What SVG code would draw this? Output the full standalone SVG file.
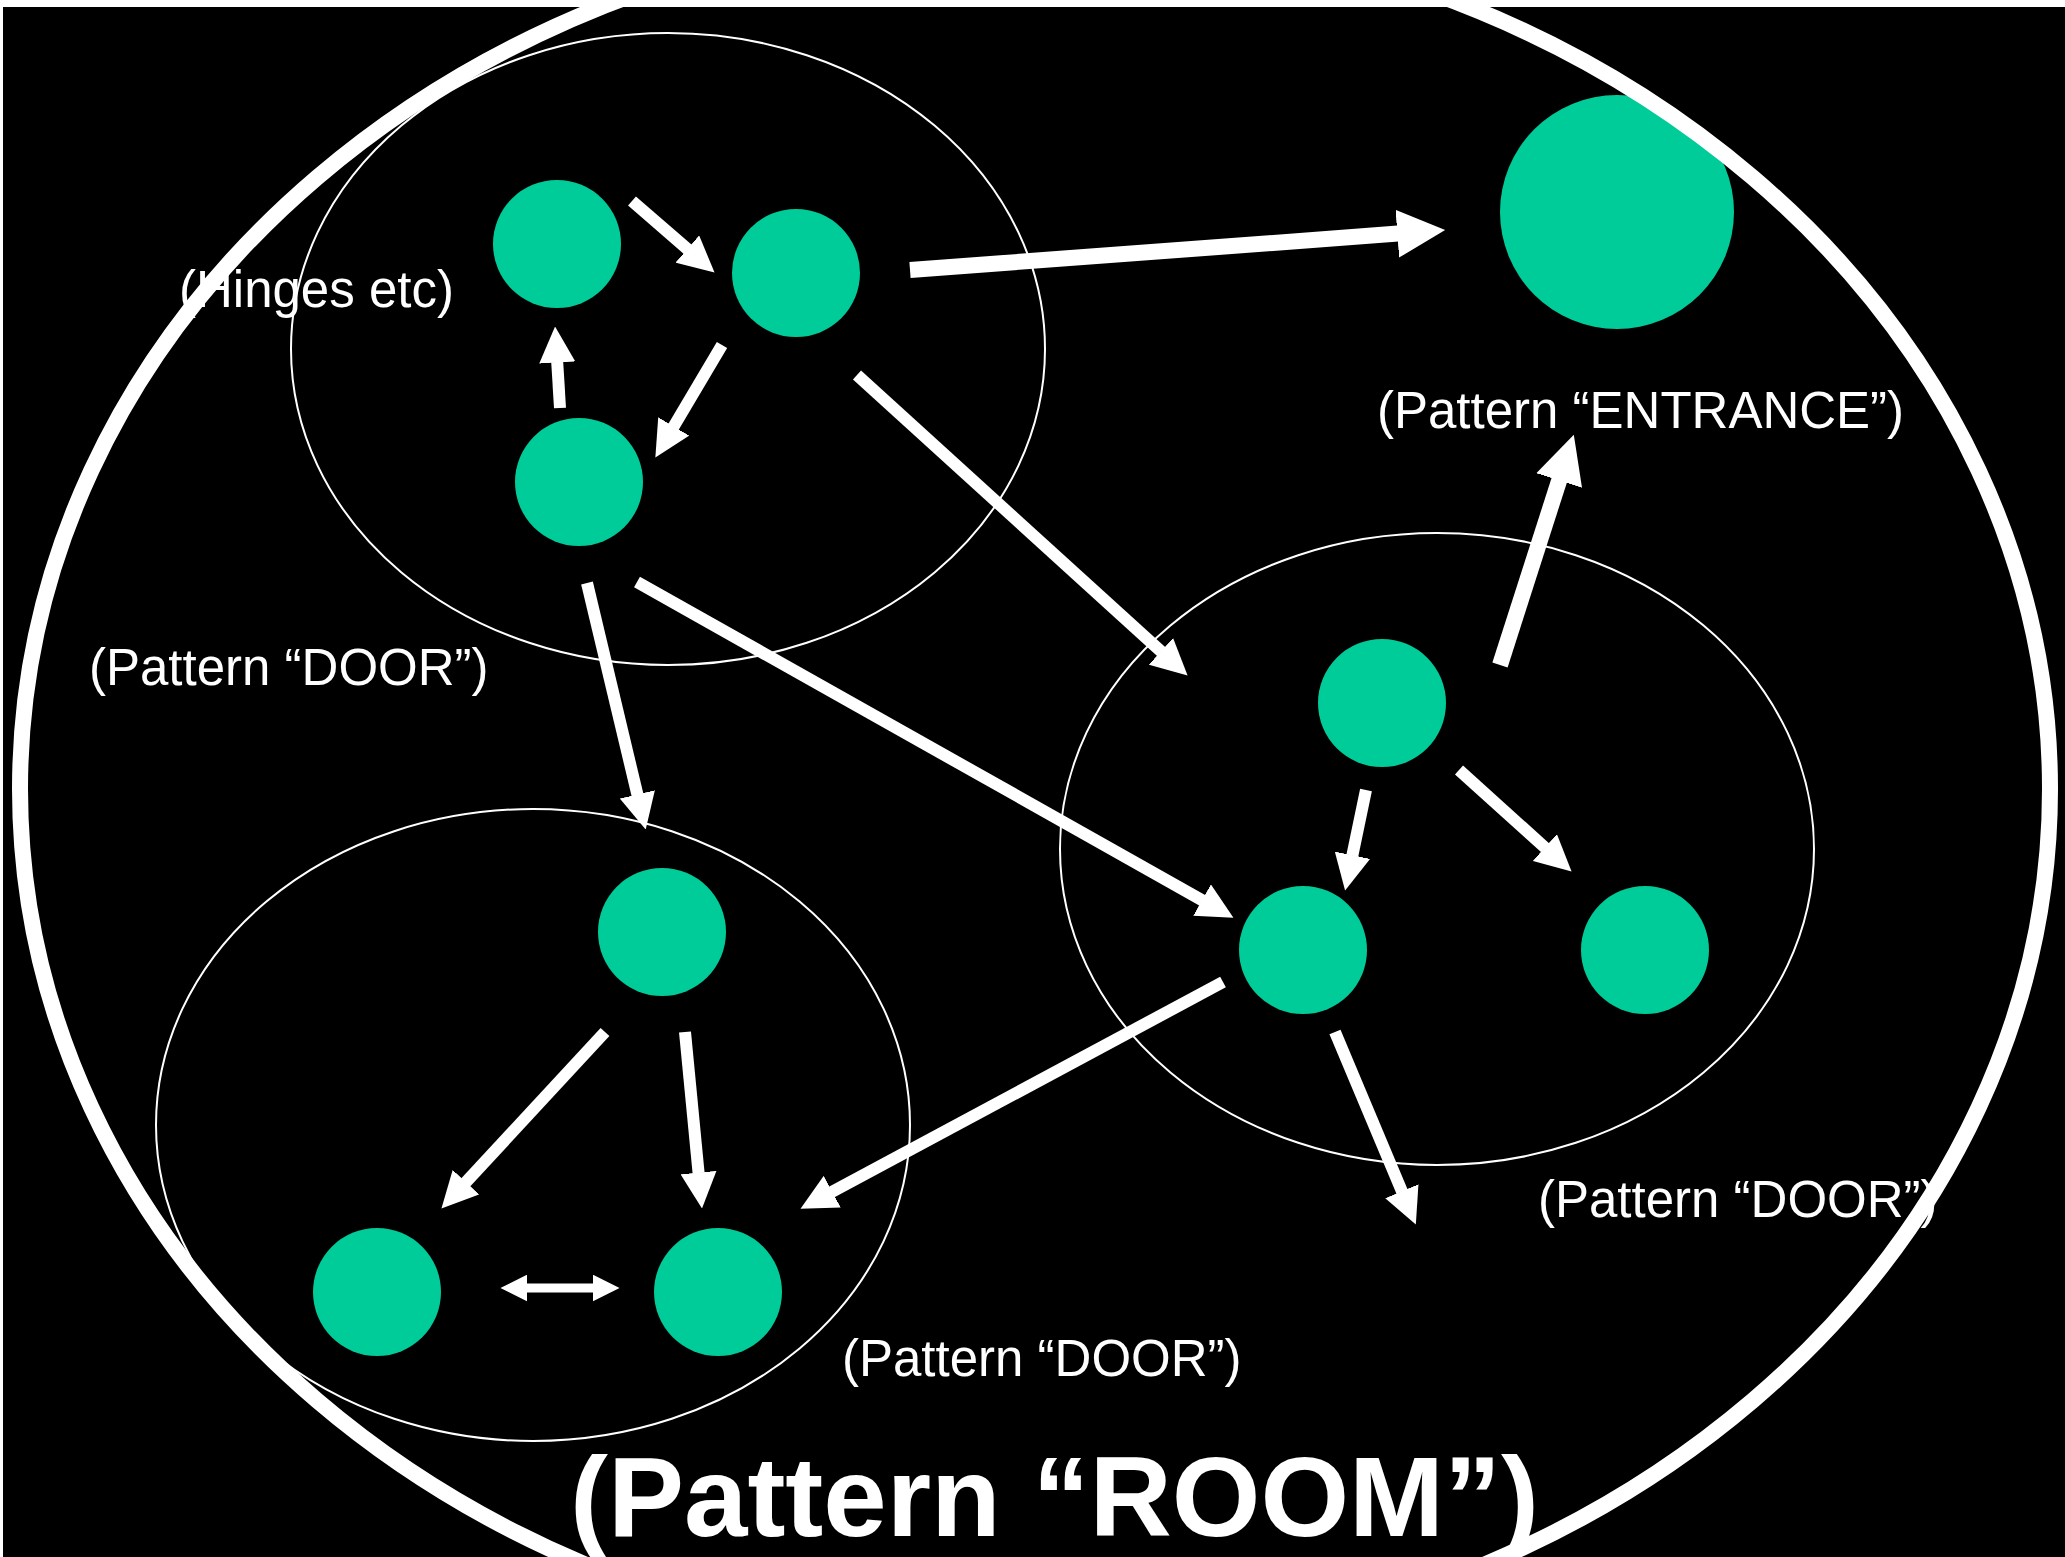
<svg xmlns="http://www.w3.org/2000/svg" width="2065" height="1557" viewBox="0 0 2065 1557">
<style>
.bg{fill:#000}
.grp{fill:none;stroke:#fff;stroke-width:2}
.room{fill:none;stroke:#fff;stroke-width:16}
.node{fill:#00CC99}
.c{stroke:#fff;stroke-width:12;fill:none;marker-end:url(#ah)}
.ck{stroke:#fff;stroke-width:16;fill:none;marker-end:url(#ah)}
.cd{stroke:#fff;stroke-width:9;fill:none;marker-end:url(#ah);marker-start:url(#ahs)}
.lbl{font-family:"Liberation Sans",Arial,sans-serif;font-size:51px;fill:#fff}
.title{font-family:"Liberation Sans",Arial,sans-serif;font-size:114px;font-weight:bold;fill:#fff}
</style>
<defs>
<marker id="ah" markerUnits="strokeWidth" viewBox="0 0 3 3" markerWidth="3" markerHeight="3" refX="0.05" refY="1.5" orient="auto"><path d="M0,0 L3,1.5 L0,3 z" fill="#fff"/></marker>
<marker id="ahs" markerUnits="strokeWidth" viewBox="0 0 3 3" markerWidth="3" markerHeight="3" refX="0.05" refY="1.5" orient="auto-start-reverse"><path d="M0,0 L3,1.5 L0,3 z" fill="#fff"/></marker>
</defs>
<rect width="2065" height="1557" fill="#fff"/>
<rect class="bg" x="3" y="7" width="2062" height="1550"/>

<g id="pattern-door-top">
<ellipse class="grp" cx="668" cy="349" rx="377" ry="316"/>
</g>
<g id="pattern-door-right">
<ellipse class="grp" cx="1437" cy="849" rx="377" ry="316"/>
</g>
<g id="pattern-door-bottom">
<ellipse class="grp" cx="533" cy="1125" rx="377" ry="316"/>
</g>

<g id="node-a"><circle class="node" cx="557" cy="244" r="64"/></g>
<g id="node-b"><circle class="node" cx="796" cy="273" r="64"/></g>
<g id="node-c"><circle class="node" cx="579" cy="482" r="64"/></g>
<g id="node-entrance"><circle class="node" cx="1617" cy="212" r="117"/></g>
<g id="node-d1"><circle class="node" cx="1382" cy="703" r="64"/></g>
<g id="node-d2"><circle class="node" cx="1303" cy="950" r="64"/></g>
<g id="node-d3"><circle class="node" cx="1645" cy="950" r="64"/></g>
<g id="node-f1"><circle class="node" cx="662" cy="932" r="64"/></g>
<g id="node-f2"><circle class="node" cx="377" cy="1292" r="64"/></g>
<g id="node-f3"><circle class="node" cx="718" cy="1292" r="64"/></g>

<g id="connectors">
<line class="c" x1="632" y1="201" x2="687.8" y2="249.4"/>
<line class="c" x1="722" y1="345" x2="673.4" y2="427"/>
<line class="c" x1="560" y1="408" x2="557.2" y2="361.9"/>
<line class="ck" x1="910" y1="270" x2="1398.1" y2="233.6"/>
<line class="c" x1="857" y1="375" x2="1161.4" y2="651.8"/>
<line class="c" x1="637" y1="582" x2="1202.6" y2="900.4"/>
<line class="c" x1="587" y1="583" x2="637.5" y2="795"/>
<line class="ck" x1="1500" y1="665" x2="1559.4" y2="479.7"/>
<line class="c" x1="1366" y1="790" x2="1352.3" y2="855.8"/>
<line class="c" x1="1459" y1="770" x2="1545.3" y2="847.9"/>
<line class="c" x1="1223" y1="982" x2="831.7" y2="1192"/>
<line class="c" x1="1335" y1="1032" x2="1402.1" y2="1191.8"/>
<line class="c" x1="605" y1="1032" x2="465.5" y2="1182.6"/>
<line class="c" x1="685" y1="1032" x2="698.6" y2="1173.2"/>
<line class="cd" x1="527" y1="1288" x2="593" y2="1288"/>
</g>

<g id="labels">
<text class="lbl" x="179" y="307">(Hinges etc)</text>
<text class="lbl" x="89" y="685">(Pattern “DOOR”)</text>
<text class="lbl" x="1377" y="428">(Pattern “ENTRANCE”)</text>
<text class="lbl" x="1538" y="1217">(Pattern “DOOR”)</text>
<text class="lbl" x="842" y="1376">(Pattern “DOOR”)</text>
</g>

<g id="pattern-room">
<ellipse class="room" cx="1035" cy="789" rx="1015" ry="865"/>
<text class="title" x="570" y="1536">(Pattern “ROOM”)</text>
</g>
</svg>
